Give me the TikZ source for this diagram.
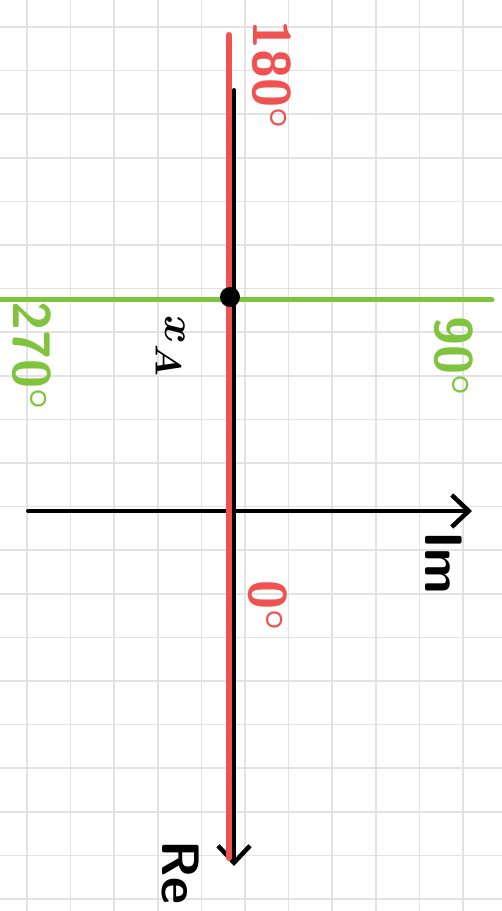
\documentclass[tikz,border=0pt]{standalone}
\usetikzlibrary{arrows.meta,positioning}
\definecolor{penred}{RGB}{240,82,82}
\definecolor{pengreen}{RGB}{128,196,62}
\definecolor{gridgray}{RGB}{226,226,228}

\begin{document}
\begin{tikzpicture}[x=0.02cm, y=-0.02cm, line cap=round, every node/.style={font=\sffamily\bfseries\boldmath\fontsize{30}{30}\selectfont}, gridline/.style={gridgray, line width=0.035cm}, axis/.style={black, line width=0.08cm, -{Straight Barb[length=0.34cm, width=0.64cm, line width=0.09cm]}}, redline/.style={penred, line width=0.12cm}, greenline/.style={pengreen, line width=0.1cm}, lbl/.style={rotate=-90, inner sep=0pt}]
\useasboundingbox (0,0) rectangle (502,911);
\fill[white] (0,0) rectangle (502,911);
% grid paper
\foreach \i in {0,...,10} \draw[gridline] ({27+43.6*\i},0) -- ({27+43.6*\i},911);
\foreach \j in {0,...,20} \draw[gridline] (0,{27+43.6*\j}) -- (502,{27+43.6*\j});
% axis ends
\coordinate (re start) at (234,90);
\coordinate (re end) at (234,866);
\coordinate (im start) at (28,511);
\coordinate (im end) at (472,511);
\coordinate (red start) at (229,35);
\coordinate (red end) at (229,858);
\coordinate (green start) at (0,300);
\coordinate (green end) at (492,300);
\draw[axis] (re start) -- (re end);
\draw[axis] (im start) -- (im end);
\draw[redline] (red start) -- (red end);
\draw[greenline] (green start) -- (green end);
\node[circle, fill=black, inner sep=0pt, minimum size=0.4cm] (xA) at (230,297) {};
% labels
\node[lbl, penred] (deg180) at (272,75) {180$^\circ$};
\node[lbl, penred] (deg0) at (268,606) {0$^\circ$};
\node[lbl, pengreen] (deg270) at (32,356) {270$^\circ$};
\node[lbl, pengreen] (deg90) at (454,356) {90$^\circ$};
\node[lbl] (xlabel) at (170,346) {$x_A$};
\node[lbl] (imlabel) at (444,563) {Im};
\node[lbl] (relabel) at (180,872) {Re};
\end{tikzpicture}
\end{document}
